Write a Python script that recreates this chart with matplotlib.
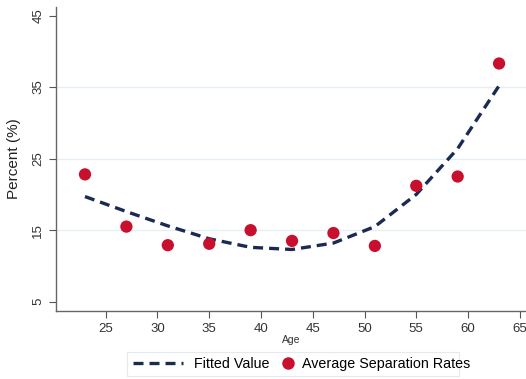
import numpy as np
import matplotlib.pyplot as plt
from matplotlib.lines import Line2D
from matplotlib.patches import Rectangle
from matplotlib.legend_handler import HandlerLine2D

plt.rcParams['font.family'] = ['Liberation Sans', 'DejaVu Sans']

# valores
ages = [23, 27, 31, 35, 39, 43, 47, 51, 55, 59, 63]
sep_rates = [22.8, 15.5, 12.9, 13.1, 15.0, 13.5, 14.6, 12.8, 21.2, 22.5, 38.3]
fitted = [19.7, 17.6, 15.6, 13.8, 12.6, 12.3, 13.2, 15.5, 20.0, 26.4, 35.2]
xticks = [25, 30, 35, 40, 45, 50, 55, 60, 65]
yticks = [5, 15, 25, 35, 45]


# marcador da legenda encostado no texto
class RightMarker(HandlerLine2D):
    def create_artists(self, legend, orig_handle, xdescent, ydescent, width, height, fontsize, trans):
        arts = super().create_artists(legend, orig_handle, xdescent, ydescent, width, height, fontsize, trans)
        for a in arts:
            x = width - xdescent - 2
            a.set_xdata([x, x, x])
        return arts


W, H = 526, 379
fig = plt.figure(figsize=(W/100, H/100), dpi=100)
ax = fig.add_axes([56/W, 1 - 311/H, 470/W, 304/H])

# linhas de grade só nos valores internos
for g in [15, 25, 35]:
    ax.axhline(g, color='#e6eef5', lw=0.9, zorder=0)

ax.plot(ages, fitted, ls=(0, (3.0, 1.8)), color='#1b2a52', lw=2.4, zorder=2)
ax.scatter(ages, sep_rates, s=78, color='#c8102e', edgecolors='none', zorder=3)

ax.set_xlim(20.2, 65.6)
ax.set_ylim(3.7, 46.2)
ax.set_xticks(xticks)
ax.set_yticks(yticks)
ax.tick_params(axis='both', direction='out', length=5, width=0.8, color='#555555', labelsize=9.5, labelcolor='#333333')
ax.tick_params(axis='y', labelrotation=90)
for lab in ax.get_yticklabels():
    lab.set_va('center')
for s in ['top', 'right']:
    ax.spines[s].set_visible(False)
for s in ['left', 'bottom']:
    ax.spines[s].set_color('#666666')
    ax.spines[s].set_linewidth(1.0)

ax.set_xlabel('Age', fontsize=7.5, color='#333333', labelpad=0)
ax.set_ylabel('Percent (%)', fontsize=11, color='#222222', labelpad=8)

# moldura da legenda (o texto passa um pouco da borda, como no original)
fig.add_artist(Rectangle((127/W, 1 - 376/H), 332/W, 24/H, transform=fig.transFigure,
                         facecolor='none', edgecolor='#e3e9ee', lw=0.8))

line_h = Line2D([], [], ls=(0, (3.0, 1.8)), color='#1b2a52', lw=2.4)
dot_h = Line2D([], [], ls='none', marker='o', markersize=9, color='#c8102e', markeredgecolor='none')
leg = fig.legend([line_h, dot_h], ['Fitted Value', 'Average Separation Rates'], ncol=2,
                 loc='center left', bbox_to_anchor=(133/W, 1 - 364/H), fontsize=10.3,
                 frameon=False, handlelength=3.5, columnspacing=-2.0,
                 handletextpad=0.77, borderpad=0, borderaxespad=0,
                 handler_map={dot_h: RightMarker()})

fig.savefig('out.png', dpi=100)
